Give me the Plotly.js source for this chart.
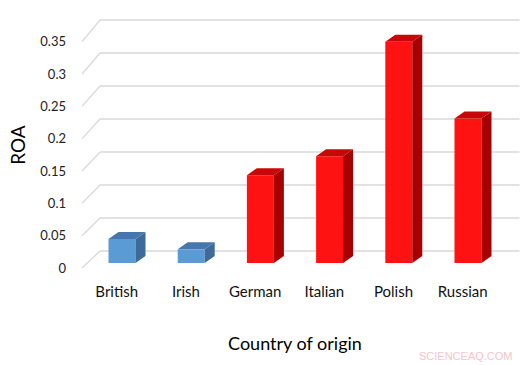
<!DOCTYPE html>
<html>
<head>
<meta charset="utf-8">
<script src="https://cdn.plot.ly/plotly-3.0.1.min.js"></script>
<style>html,body{margin:0;padding:0;background:#fff;}#chart{width:530px;height:365px;}</style>
</head>
<body>
<div id="chart"></div>
<script>
// ---- data ----
const categories = ['British', 'Irish', 'German', 'Italian', 'Polish', 'Russian'];
const roa = [0.037, 0.021, 0.135, 0.164, 0.340, 0.222];
const yTicks = [0, 0.05, 0.1, 0.15, 0.2, 0.25, 0.3, 0.35];
const yTickText = ['0', '0.05', '0.1', '0.15', '0.2', '0.25', '0.3', '0.35'];

// ---- styles ----
const frontColors = ['#5b9bd5', '#5b9bd5', '#ff1212', '#ff1212', '#ff1212', '#ff1212'];
const topColors = ['#4576ad', '#4576ad', '#c80808', '#c80808', '#c80808', '#c80808'];
const sideColors = ['#3d6a98', '#3d6a98', '#a80000', '#a80000', '#a80000', '#a80000'];
const FONT = 'Lato, "Open Sans", sans-serif';

// ---- pseudo-3D projection constants (plot units) ----
const WALL_DX = 0.26, WALL_DY = 0.0261;      // floor depth (front edge -> back wall)
const S_FRONT = 0.994, S_BACK = 1.0146;      // perspective scale of values
const Z_BAR = 0.294;                          // depth of bar front plane
const BAR_W = 0.39, BAR_DX = 0.1445, BAR_DY = 0.0108;
const X_LEFT = -0.501, X_RIGHT = 5.82;
const barX0 = Z_BAR * WALL_DX, barBase = Z_BAR * WALL_DY;

const traces = [];

// wall gridlines + left diagonals (drawn below the bars)
const gridShapes = [];
yTicks.forEach(t => {
  const line = {color: '#d9d9d9', width: 1.3};
  gridShapes.push({type: 'line', layer: 'below', xref: 'x', yref: 'y',
    x0: X_LEFT, y0: t * S_FRONT, x1: X_LEFT + WALL_DX, y1: t * S_BACK + WALL_DY, line: line});
  gridShapes.push({type: 'line', layer: 'below', xref: 'x', yref: 'y',
    x0: X_LEFT + WALL_DX, y0: t * S_BACK + WALL_DY, x1: X_RIGHT, y1: t * S_BACK + WALL_DY, line: line});
});

// front faces as bars
traces.push({type: 'bar', x: categories.map((c, i) => i + barX0), y: roa, base: barBase,
  width: BAR_W, marker: {color: frontColors, line: {width: 0}}, name: 'ROA', showlegend: false,
  text: categories, hovertemplate: '%{text}: %{y}<extra></extra>', textposition: 'none'});

// side faces and top faces
categories.forEach((c, i) => {
  const xl = i + barX0 - BAR_W / 2, xr = i + barX0 + BAR_W / 2;
  const top = barBase + roa[i];
  traces.push({type: 'scatter', mode: 'lines', fill: 'toself', fillcolor: sideColors[i],
    x: [xr, xr, xr + BAR_DX, xr + BAR_DX, xr], y: [barBase, top, top + BAR_DY, barBase + BAR_DY, barBase],
    line: {width: 0, color: sideColors[i]}, hoverinfo: 'skip', showlegend: false});
  traces.push({type: 'scatter', mode: 'lines', fill: 'toself', fillcolor: topColors[i],
    x: [xl, xr, xr + BAR_DX, xl + BAR_DX, xl], y: [top, top, top + BAR_DY, top + BAR_DY, top],
    line: {width: 0, color: topColors[i]}, hoverinfo: 'skip', showlegend: false});
});

const layout = {
  width: 530, height: 365,
  margin: {l: 70, r: 10, t: 15, b: 90},
  paper_bgcolor: '#ffffff', plot_bgcolor: '#ffffff',
  font: {family: FONT, color: '#000000'},
  showlegend: false,
  shapes: gridShapes,
  xaxis: {
    range: [-0.675, 5.828], tickvals: categories.map((c, i) => i), ticktext: categories,
    showgrid: false, zeroline: false, showline: false, ticks: '',
    tickfont: {family: FONT, size: 15, color: '#111111'}, ticklabelstandoff: 6,
    title: {text: 'Country of origin', font: {family: FONT, size: 18, color: '#000000'}, standoff: 38},
    fixedrange: true
  },
  yaxis: {
    range: [-0.01076, 0.3889], tickvals: yTicks.map(t => t * S_FRONT), ticktext: yTickText,
    showgrid: false, zeroline: false, showline: false, ticks: '',
    tickfont: {family: FONT, size: 13, color: '#222222'}, ticklabelstandoff: 3,
    title: {text: 'ROA', font: {family: FONT, size: 19, color: '#000000'}, standoff: 9},
    fixedrange: true
  },
  annotations: [{
    text: 'SCIENCEAQ.COM', xref: 'paper', yref: 'paper', x: 0.989, y: -0.3115,
    xanchor: 'right', yanchor: 'middle', showarrow: false,
    font: {family: '"Liberation Sans", Arial, sans-serif', size: 11, color: '#f4c4ca'}
  }]
};

Plotly.newPlot('chart', traces, layout, {displayModeBar: false, staticPlot: true});
</script>
</body>
</html>
